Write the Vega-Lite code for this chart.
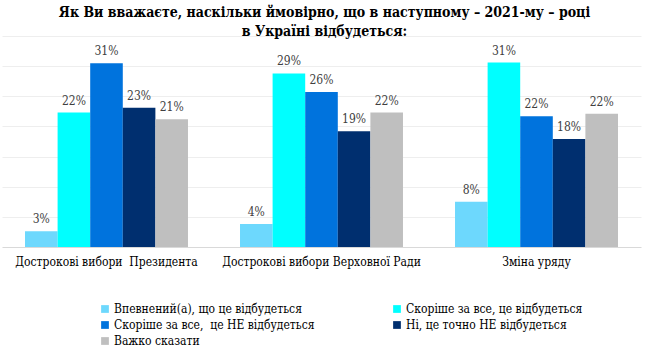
{
  "$schema": "https://vega.github.io/schema/vega-lite/v6.json",
  "width": 639,
  "height": 211,
  "autosize": "none",
  "padding": {"left": 2, "top": 36, "right": 8, "bottom": 105},
  "background": "white",
  "title": {
    "text": ["Як Ви вважаєте, наскільки ймовірно, що в наступному – 2021-му – році", "в Україні відбудеться:"],
    "font": "DejaVu Serif Condensed",
    "fontSize": 14,
    "fontWeight": "bold",
    "color": "black",
    "anchor": "middle",
    "offset": -3,
    "lineHeight": 19,
    "dx": 3
  },
  "config": {
    "view": {"stroke": null},
    "legend": {"labelFont": "DejaVu Serif Condensed", "labelFontSize": 12, "labelColor": "black"}
  },
  "data": {
    "values": [
      {"cat": "Дострокові вибори\u00a0 Президента", "resp": "Впевнений(а), що це відбудеться", "v": 0.026},
      {"cat": "Дострокові вибори\u00a0 Президента", "resp": "Скоріше за все, це відбудеться", "v": 0.223},
      {"cat": "Дострокові вибори\u00a0 Президента", "resp": "Скоріше за все,\u00a0 це НЕ відбудеться", "v": 0.305},
      {"cat": "Дострокові вибори\u00a0 Президента", "resp": "Ні, це точно НЕ відбудеться", "v": 0.231},
      {"cat": "Дострокові вибори\u00a0 Президента", "resp": "Важко сказати", "v": 0.212},
      {"cat": "Дострокові вибори Верховної Ради", "resp": "Впевнений(а), що це відбудеться", "v": 0.038},
      {"cat": "Дострокові вибори Верховної Ради", "resp": "Скоріше за все, це відбудеться", "v": 0.288},
      {"cat": "Дострокові вибори Верховної Ради", "resp": "Скоріше за все,\u00a0 це НЕ відбудеться", "v": 0.257},
      {"cat": "Дострокові вибори Верховної Ради", "resp": "Ні, це точно НЕ відбудеться", "v": 0.192},
      {"cat": "Дострокові вибори Верховної Ради", "resp": "Важко сказати", "v": 0.223},
      {"cat": "Зміна уряду", "resp": "Впевнений(а), що це відбудеться", "v": 0.075},
      {"cat": "Зміна уряду", "resp": "Скоріше за все, це відбудеться", "v": 0.306},
      {"cat": "Зміна уряду", "resp": "Скоріше за все,\u00a0 це НЕ відбудеться", "v": 0.217},
      {"cat": "Зміна уряду", "resp": "Ні, це точно НЕ відбудеться", "v": 0.179},
      {"cat": "Зміна уряду", "resp": "Важко сказати", "v": 0.221}
    ]
  },
  "encoding": {
    "x": {
      "field": "cat",
      "type": "nominal",
      "sort": ["Дострокові вибори\u00a0 Президента", "Дострокові вибори Верховної Ради", "Зміна уряду"],
      "scale": {"paddingInner": 0.242, "paddingOuter": 0.107},
      "axis": {
        "title": null,
        "labelAngle": 0,
        "labelFont": "DejaVu Serif Condensed",
        "labelFontSize": 12,
        "labelColor": "black",
        "labelPadding": 9,
        "labelLimit": 300,
        "ticks": false,
        "domainColor": "#d9d9d9",
        "grid": false
      }
    },
    "xOffset": {
      "field": "resp",
      "type": "nominal",
      "sort": ["Впевнений(а), що це відбудеться", "Скоріше за все, це відбудеться", "Скоріше за все,\u00a0 це НЕ відбудеться", "Ні, це точно НЕ відбудеться", "Важко сказати"]
    },
    "y": {
      "field": "v",
      "type": "quantitative",
      "scale": {"domain": [0, 0.35]},
      "axis": {
        "title": null,
        "labels": false,
        "ticks": false,
        "domain": false,
        "values": [0.05, 0.1, 0.15, 0.2, 0.25, 0.3, 0.35],
        "gridColor": "#eeeeee",
        "gridWidth": 1
      }
    }
  },
  "layer": [
    {
      "mark": {"type": "bar"},
      "encoding": {
        "color": {
          "field": "resp",
          "type": "nominal",
          "scale": {
            "domain": ["Впевнений(а), що це відбудеться", "Скоріше за все,\u00a0 це НЕ відбудеться", "Важко сказати", "Скоріше за все, це відбудеться", "Ні, це точно НЕ відбудеться"],
            "range": ["#6dd8fd", "#0073dd", "#bfbfbf", "#00ffff", "#002f6f"]
          },
          "legend": {
            "title": null,
            "orient": "none",
            "legendX": 97,
            "legendY": 267,
            "columns": 2,
            "columnPadding": 76,
            "rowPadding": 4,
            "symbolType": "square",
            "symbolSize": 60,
            "symbolStrokeWidth": 0,
            "labelFont": "DejaVu Serif Condensed",
            "labelFontSize": 12,
            "labelColor": "black",
            "labelLimit": 300,
            "labelOffset": 3
          }
        }
      }
    },
    {
      "mark": {"type": "text", "baseline": "bottom", "dy": -5, "font": "DejaVu Serif Condensed", "fontSize": 12, "color": "#404040"},
      "encoding": {
        "text": {"field": "v", "type": "quantitative", "format": ".0%"}
      }
    }
  ]
}
